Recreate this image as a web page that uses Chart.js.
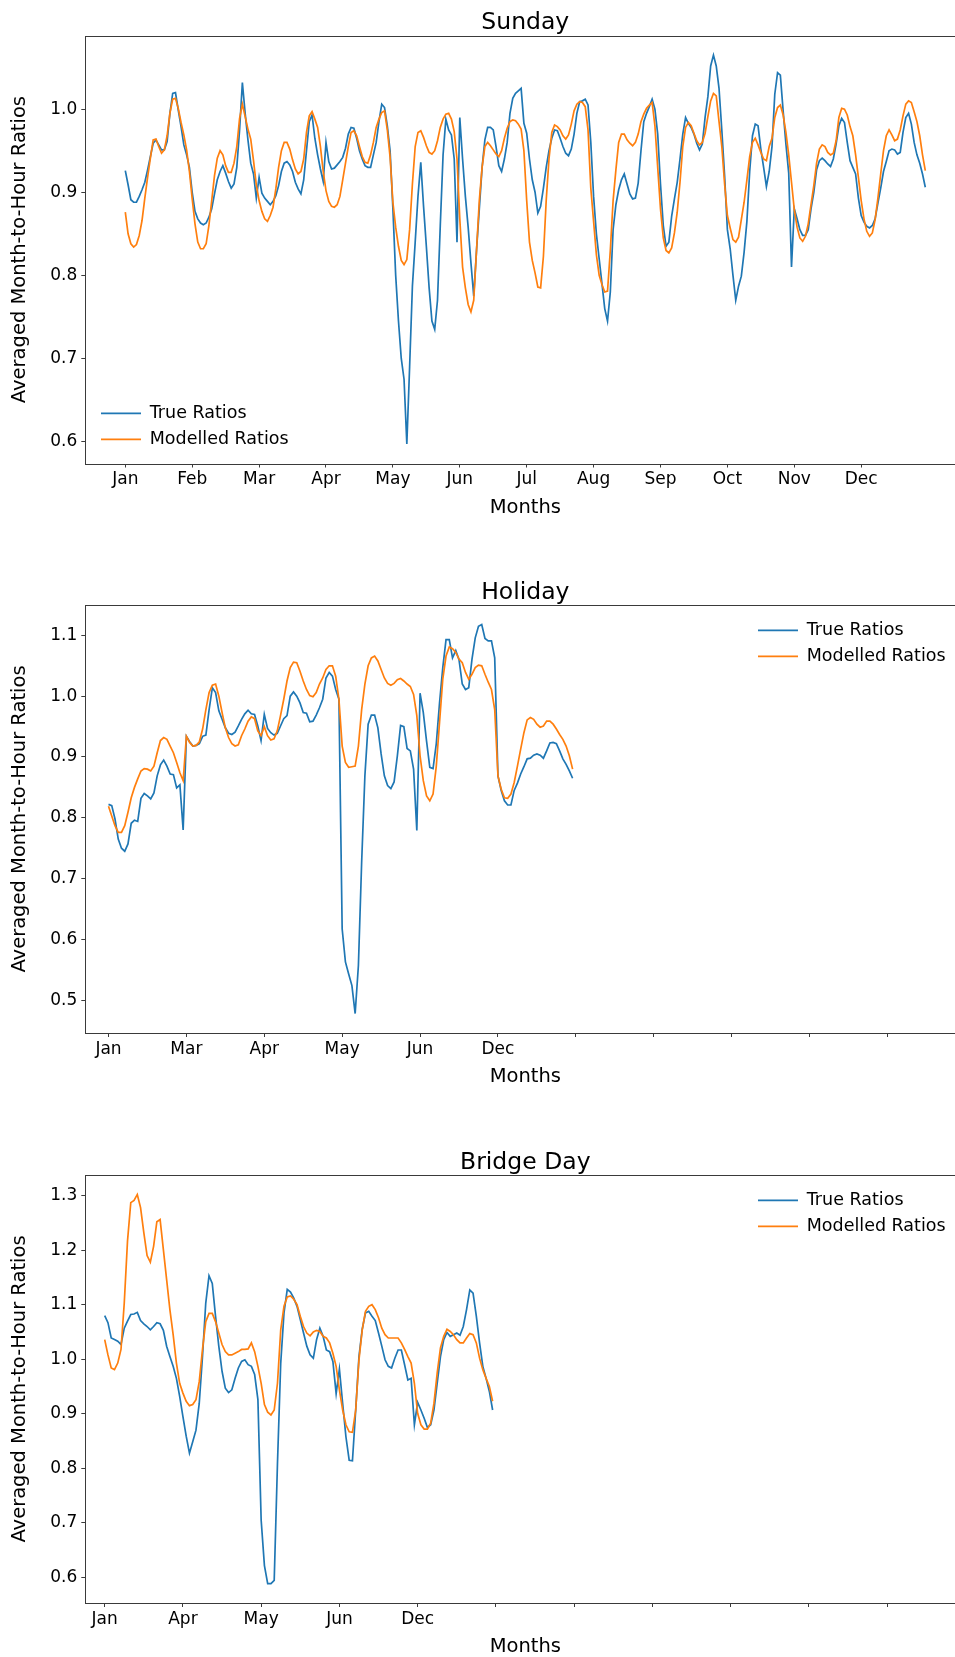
<!DOCTYPE html>
<html>
<head>
<meta charset="utf-8">
<script src="https://cdn.jsdelivr.net/npm/chart.js@4.4.1/dist/chart.umd.min.js"></script>
<style>
  html, body { margin: 0; padding: 0; background: #fff; overflow: hidden; width: 955px; height: 1657px; }
  .panel { position: absolute; left: 0; }
  canvas { display: block; }
</style>
</head>
<body>
<div class="panel" style="top:0px"><canvas id="sunday" width="1000" height="540"></canvas></div>
<div class="panel" style="top:560px"><canvas id="holiday" width="1000" height="550"></canvas></div>
<div class="panel" style="top:1130px"><canvas id="bridge" width="1000" height="550"></canvas></div>
<script>
// Hour-of-day profiles: 24 values per month, one tick at the first hour of each month.
const tickHours = [0, 24, 48, 72, 96, 120, 144, 168, 192, 216, 240, 264];

const sundayMonths = ['Jan', 'Feb', 'Mar', 'Apr', 'May', 'Jun', 'Jul', 'Aug', 'Sep', 'Oct', 'Nov', 'Dec'];
const holidayMonths = ['Jan', 'Mar', 'Apr', 'May', 'Jun', 'Dec'];
const bridgeMonths = ['Jan', 'Apr', 'May', 'Jun', 'Dec'];

const sundayYTicks = [0.6, 0.7, 0.8, 0.9, 1.0];
const holidayYTicks = [0.5, 0.6, 0.7, 0.8, 0.9, 1.0, 1.1];
const bridgeYTicks = [0.6, 0.7, 0.8, 0.9, 1.0, 1.1, 1.2, 1.3];

const sundayTrue = [
  0.926, 0.909, 0.891, 0.888, 0.888, 0.895, 0.903, 0.912, 0.927, 0.943, 0.959, 0.963, 0.957, 0.951, 0.951, 0.961, 0.995, 1.019, 1.020, 0.999, 0.979, 0.957, 0.945, 0.930,
  0.900, 0.877, 0.868, 0.863, 0.861, 0.863, 0.870, 0.880, 0.898, 0.915, 0.925, 0.932, 0.923, 0.913, 0.905, 0.910, 0.930, 0.975, 1.032, 0.995, 0.963, 0.935, 0.922, 0.893,
  0.918, 0.899, 0.893, 0.889, 0.885, 0.889, 0.896, 0.908, 0.925, 0.935, 0.937, 0.933, 0.925, 0.912, 0.904, 0.898, 0.915, 0.950, 0.985, 0.993, 0.965, 0.945, 0.928, 0.913,
  0.960, 0.937, 0.928, 0.929, 0.933, 0.937, 0.942, 0.953, 0.970, 0.978, 0.977, 0.965, 0.950, 0.940, 0.932, 0.930, 0.930, 0.945, 0.960, 0.985, 1.006, 1.002, 0.980, 0.950,
  0.880, 0.800, 0.745, 0.700, 0.675, 0.597, 0.690, 0.787, 0.840, 0.895, 0.936, 0.883, 0.835, 0.785, 0.745, 0.735, 0.770, 0.860, 0.945, 0.988, 0.975, 0.969, 0.940, 0.840,
  0.990, 0.940, 0.895, 0.858, 0.815, 0.775, 0.830, 0.880, 0.930, 0.963, 0.978, 0.978, 0.975, 0.955, 0.932, 0.925, 0.940, 0.960, 0.995, 1.013, 1.019, 1.022, 1.025, 0.983,
  0.971, 0.940, 0.915, 0.900, 0.875, 0.883, 0.905, 0.930, 0.950, 0.965, 0.975, 0.974, 0.965, 0.955, 0.947, 0.944, 0.952, 0.970, 0.995, 1.009, 1.010, 1.012, 1.005, 0.960,
  0.895, 0.850, 0.820, 0.790, 0.760, 0.745, 0.780, 0.855, 0.885, 0.903, 0.915, 0.922, 0.910, 0.898, 0.892, 0.893, 0.911, 0.950, 0.985, 0.995, 1.003, 1.012, 1.000, 0.970,
  0.910, 0.860, 0.835, 0.840, 0.871, 0.892, 0.912, 0.940, 0.970, 0.990, 0.983, 0.978, 0.970, 0.959, 0.951, 0.958, 0.990, 1.015, 1.052, 1.065, 1.052, 1.025, 0.975, 0.920,
  0.855, 0.832, 0.800, 0.770, 0.787, 0.799, 0.828, 0.865, 0.925, 0.968, 0.982, 0.980, 0.952, 0.930, 0.907, 0.925, 0.955, 1.018, 1.044, 1.041, 0.998, 0.958, 0.923, 0.810,
  0.880, 0.868, 0.855, 0.848, 0.848, 0.855, 0.880, 0.900, 0.927, 0.938, 0.941, 0.938, 0.934, 0.931, 0.940, 0.958, 0.980, 0.989, 0.984, 0.960, 0.938, 0.930, 0.922, 0.893,
  0.872, 0.864, 0.859, 0.857, 0.860, 0.868, 0.887, 0.905, 0.925, 0.937, 0.950, 0.952, 0.951, 0.946, 0.948, 0.972, 0.990, 0.995, 0.982, 0.960, 0.945, 0.935, 0.922, 0.906
];

const sundayModel = [
  0.876, 0.850, 0.838, 0.834, 0.837, 0.848, 0.866, 0.893, 0.918, 0.941, 0.963, 0.964, 0.955, 0.947, 0.951, 0.968, 0.995, 1.012, 1.013, 1.001, 0.984, 0.969, 0.951, 0.925,
  0.892, 0.862, 0.840, 0.832, 0.832, 0.838, 0.860, 0.890, 0.920, 0.941, 0.950, 0.945, 0.932, 0.924, 0.924, 0.935, 0.955, 0.989, 1.006, 0.991, 0.976, 0.964, 0.938, 0.909,
  0.890, 0.877, 0.868, 0.865, 0.872, 0.882, 0.904, 0.930, 0.950, 0.960, 0.960, 0.952, 0.939, 0.928, 0.922, 0.925, 0.940, 0.972, 0.992, 0.997, 0.988, 0.978, 0.955, 0.925,
  0.902, 0.889, 0.883, 0.882, 0.885, 0.895, 0.915, 0.935, 0.955, 0.972, 0.974, 0.968, 0.955, 0.943, 0.936, 0.935, 0.945, 0.960, 0.978, 0.988, 0.996, 0.998, 0.975, 0.942,
  0.888, 0.858, 0.835, 0.818, 0.813, 0.819, 0.855, 0.910, 0.955, 0.972, 0.974, 0.966, 0.956, 0.948, 0.946, 0.950, 0.962, 0.978, 0.988, 0.994, 0.995, 0.988, 0.973, 0.940,
  0.868, 0.810, 0.785, 0.765, 0.756, 0.770, 0.830, 0.890, 0.930, 0.955, 0.960, 0.956, 0.951, 0.946, 0.943, 0.950, 0.965, 0.977, 0.985, 0.987, 0.986, 0.982, 0.976, 0.950,
  0.890, 0.840, 0.818, 0.803, 0.786, 0.785, 0.823, 0.890, 0.940, 0.972, 0.981, 0.979, 0.975, 0.968, 0.964, 0.969, 0.982, 0.998, 1.006, 1.009, 1.008, 1.003, 0.975, 0.905,
  0.865, 0.825, 0.800, 0.789, 0.780, 0.781, 0.830, 0.890, 0.927, 0.960, 0.970, 0.970, 0.963, 0.959, 0.956, 0.960, 0.970, 0.985, 0.994, 1.001, 1.005, 1.008, 0.980, 0.930,
  0.880, 0.845, 0.830, 0.827, 0.833, 0.851, 0.876, 0.912, 0.955, 0.978, 0.984, 0.980, 0.971, 0.962, 0.957, 0.960, 0.971, 0.991, 1.010, 1.019, 1.016, 0.985, 0.955, 0.910,
  0.872, 0.857, 0.843, 0.840, 0.846, 0.867, 0.888, 0.915, 0.943, 0.960, 0.965, 0.957, 0.948, 0.940, 0.938, 0.955, 0.965, 0.990, 1.002, 1.005, 0.993, 0.972, 0.945, 0.912,
  0.879, 0.858, 0.845, 0.841, 0.847, 0.862, 0.885, 0.908, 0.935, 0.952, 0.957, 0.955, 0.948, 0.945, 0.947, 0.962, 0.990, 1.001, 1.000, 0.993, 0.979, 0.968, 0.945, 0.918,
  0.890, 0.868, 0.853, 0.847, 0.851, 0.867, 0.893, 0.922, 0.950, 0.968, 0.975, 0.969, 0.962, 0.964, 0.975, 0.992, 1.006, 1.010, 1.008, 0.997, 0.985, 0.968, 0.945, 0.926
];

const holidayTrue = [
  0.822, 0.820, 0.798, 0.765, 0.750, 0.745, 0.757, 0.791, 0.796, 0.794, 0.832, 0.840, 0.836, 0.831, 0.841, 0.869, 0.887, 0.895, 0.885, 0.872, 0.871, 0.849, 0.854, 0.780,
  0.934, 0.925, 0.918, 0.919, 0.922, 0.934, 0.936, 0.978, 1.014, 1.006, 0.976, 0.962, 0.948, 0.939, 0.937, 0.941, 0.951, 0.962, 0.971, 0.977, 0.971, 0.970, 0.951, 0.927,
  0.970, 0.947, 0.940, 0.936, 0.939, 0.951, 0.963, 0.968, 1.000, 1.007, 1.000, 0.989, 0.973, 0.972, 0.958, 0.959, 0.969, 0.981, 0.995, 1.030, 1.039, 1.033, 1.011, 0.995,
  0.617, 0.563, 0.543, 0.524, 0.478, 0.557, 0.727, 0.869, 0.954, 0.969, 0.969, 0.948, 0.905, 0.869, 0.853, 0.848, 0.859, 0.902, 0.952, 0.950, 0.914, 0.910, 0.880, 0.779,
  1.005, 0.973, 0.926, 0.883, 0.881, 0.922, 0.989, 1.047, 1.093, 1.093, 1.063, 1.075, 1.060, 1.020, 1.011, 1.014, 1.061, 1.096, 1.115, 1.118, 1.095, 1.091, 1.091, 1.063,
  0.869, 0.845, 0.828, 0.821, 0.821, 0.845, 0.857, 0.872, 0.884, 0.897, 0.898, 0.903, 0.905, 0.903, 0.898, 0.910, 0.923, 0.924, 0.922, 0.910, 0.897, 0.888, 0.877, 0.865
];

const holidayModel = [
  0.819, 0.803, 0.787, 0.776, 0.776, 0.787, 0.809, 0.833, 0.850, 0.864, 0.877, 0.881, 0.880, 0.877, 0.885, 0.907, 0.927, 0.932, 0.929, 0.918, 0.907, 0.891, 0.874, 0.861,
  0.934, 0.924, 0.918, 0.919, 0.925, 0.946, 0.978, 1.006, 1.018, 1.020, 1.000, 0.973, 0.948, 0.932, 0.922, 0.918, 0.920, 0.935, 0.946, 0.959, 0.966, 0.963, 0.943, 0.935,
  0.950, 0.935, 0.928, 0.930, 0.943, 0.968, 0.995, 1.025, 1.047, 1.056, 1.055, 1.041, 1.025, 1.011, 1.001, 0.999, 1.006, 1.020, 1.030, 1.044, 1.050, 1.050, 1.033, 0.995,
  0.918, 0.891, 0.883, 0.884, 0.885, 0.918, 0.978, 1.020, 1.050, 1.063, 1.066, 1.058, 1.044, 1.030, 1.021, 1.018, 1.021, 1.027, 1.029, 1.025, 1.020, 1.016, 1.003, 0.968,
  0.902, 0.861, 0.836, 0.828, 0.839, 0.885, 0.957, 1.028, 1.066, 1.081, 1.078, 1.072, 1.061, 1.055, 1.039, 1.028, 1.036, 1.047, 1.051, 1.050, 1.036, 1.023, 1.011, 0.978,
  0.869, 0.847, 0.833, 0.832, 0.839, 0.858, 0.885, 0.913, 0.940, 0.961, 0.965, 0.962, 0.954, 0.949, 0.951, 0.959, 0.959, 0.954, 0.946, 0.937, 0.929, 0.918, 0.902, 0.880
];

const bridgeTrue = [
  1.080, 1.067, 1.039, 1.036, 1.033, 1.027, 1.057, 1.070, 1.082, 1.083, 1.086, 1.071, 1.065, 1.060, 1.054, 1.060, 1.067, 1.065, 1.053, 1.024, 1.005, 0.987, 0.965, 0.932,
  0.895, 0.859, 0.828, 0.849, 0.870, 0.919, 1.005, 1.103, 1.153, 1.139, 1.079, 1.024, 0.978, 0.947, 0.939, 0.944, 0.965, 0.984, 0.996, 0.999, 0.990, 0.987, 0.972, 0.926,
  0.705, 0.622, 0.589, 0.589, 0.595, 0.809, 0.993, 1.085, 1.128, 1.123, 1.112, 1.097, 1.073, 1.048, 1.024, 1.008, 1.002, 1.036, 1.057, 1.042, 1.017, 1.014, 0.996, 0.937,
  0.982, 0.919, 0.858, 0.815, 0.814, 0.907, 1.005, 1.055, 1.085, 1.088, 1.079, 1.071, 1.048, 1.024, 0.999, 0.987, 0.984, 1.002, 1.017, 1.017, 0.990, 0.962, 0.965, 0.880,
  0.921, 0.907, 0.892, 0.875, 0.880, 0.907, 0.956, 1.005, 1.036, 1.049, 1.042, 1.045, 1.048, 1.044, 1.060, 1.091, 1.127, 1.121, 1.079, 1.030, 0.987, 0.965, 0.941, 0.907
];

const bridgeModel = [
  1.036, 1.008, 0.984, 0.981, 0.993, 1.018, 1.103, 1.217, 1.287, 1.291, 1.302, 1.278, 1.232, 1.190, 1.178, 1.207, 1.252, 1.256, 1.201, 1.146, 1.091, 1.045, 0.993, 0.956,
  0.938, 0.923, 0.915, 0.917, 0.926, 0.959, 1.018, 1.069, 1.084, 1.084, 1.069, 1.048, 1.027, 1.014, 1.008, 1.008, 1.011, 1.014, 1.018, 1.018, 1.019, 1.030, 1.014, 0.987,
  0.956, 0.917, 0.903, 0.898, 0.907, 0.956, 1.054, 1.097, 1.114, 1.116, 1.110, 1.100, 1.079, 1.060, 1.048, 1.043, 1.050, 1.053, 1.051, 1.042, 1.039, 1.030, 1.011, 0.987,
  0.944, 0.907, 0.880, 0.867, 0.866, 0.907, 0.999, 1.054, 1.088, 1.097, 1.100, 1.091, 1.076, 1.057, 1.045, 1.039, 1.039, 1.039, 1.039, 1.030, 1.018, 1.005, 0.993, 0.956,
  0.901, 0.880, 0.872, 0.872, 0.883, 0.919, 0.975, 1.021, 1.042, 1.055, 1.051, 1.045, 1.036, 1.030, 1.030, 1.039, 1.047, 1.045, 1.030, 1.002, 0.981, 0.965, 0.950, 0.923
];

const FONT = "'DejaVu Sans', 'Liberation Sans', sans-serif";
const BLUE = '#1f77b4';
const ORANGE = '#ff7f0e';
const SPINE = '#3a3a3a';

// Box around the plotting area (all four sides).
const axesFrame = {
  id: 'axesFrame',
  afterDatasetsDraw(chart) {
    const { ctx, chartArea: a } = chart;
    const l = Math.round(a.left) + 0.5, t = Math.round(a.top) + 0.5;
    const r = Math.round(a.right) + 0.5, b = Math.round(a.bottom) + 0.5;
    ctx.save();
    ctx.strokeStyle = SPINE;
    ctx.lineWidth = 1;
    ctx.strokeRect(l, t, r - l, b - t);
    ctx.restore();
  }
};

// Moves the legend to a fixed anchor inside the plotting area.
const legendAnchor = {
  id: 'legendAnchor',
  afterLayout(chart, args, opts) {
    const lg = chart.legend;
    if (!lg) return;
    const a = chart.chartArea;
    const rowY = opts.from === 'bottom' ? a.bottom - opts.dy : a.top + opts.dy;
    lg.left = opts.x - opts.pad;
    lg.top = rowY - opts.fontSize / 2 - opts.pad;
    lg.width = 320;
    lg.height = 90;
    lg.right = lg.left + lg.width;
    lg.bottom = lg.top + lg.height;
  }
};

function limits(a, b) {
  const all = a.concat(b);
  const lo = Math.min(...all), hi = Math.max(...all);
  const m = (hi - lo) * 0.05;
  return [lo - m, hi + m];
}

function makePanel(id, cfg) {
  const n = cfg.trueRatios.length;
  const xMin = -0.05 * (n - 1);
  const xMax = Math.max(tickHours[tickHours.length - 1], (n - 1) * 1.05);
  const [yMin, yMax] = limits(cfg.trueRatios, cfg.modelled);
  const tickGrid = { display: true, drawOnChartArea: false, drawTicks: true, tickLength: 4, tickColor: SPINE, tickWidth: 1 };
  const legendFont = 17.5, legendPad = 8.5;

  new Chart(document.getElementById(id), {
    type: 'line',
    data: {
      datasets: [
        {
          label: 'True Ratios',
          data: cfg.trueRatios.map((v, i) => ({ x: i, y: v })),
          borderColor: BLUE, backgroundColor: BLUE, borderWidth: 1.7,
          pointRadius: 0, tension: 0, fill: false, order: 1
        },
        {
          label: 'Modelled Ratios',
          data: cfg.modelled.map((v, i) => ({ x: i, y: v })),
          borderColor: ORANGE, backgroundColor: ORANGE, borderWidth: 1.7,
          pointRadius: 0, tension: 0, fill: false, order: 0
        }
      ]
    },
    options: {
      responsive: false,
      animation: false,
      devicePixelRatio: 1,
      events: [],
      layout: { padding: { left: 0, right: 34.7, top: 0, bottom: 0 } },
      scales: {
        x: {
          type: 'linear',
          min: xMin,
          max: xMax,
          afterBuildTicks: (s) => { s.ticks = tickHours.map((v) => ({ value: v })); },
          afterFit: (s) => { s.height = cfg.axisH; s.paddingLeft = 0; s.paddingRight = 0; },
          ticks: {
            autoSkip: false, maxRotation: 0, minRotation: 0, padding: 2.3, color: '#000',
            font: { family: FONT, size: 17 },
            callback: (v, i) => cfg.months[i] ?? ''
          },
          grid: tickGrid,
          border: { display: false },
          title: {
            display: true, text: 'Months', color: '#000',
            font: { family: FONT, size: 19.5 },
            padding: { top: 0, bottom: cfg.axisH - 55.9 }
          }
        },
        y: {
          type: 'linear',
          min: yMin,
          max: yMax,
          afterBuildTicks: (s) => { s.ticks = cfg.yTicks.map((v) => ({ value: v })); },
          afterFit: (s) => { s.width = 85.3; },
          ticks: {
            autoSkip: false, padding: 4, color: '#000',
            font: { family: FONT, size: 17 },
            callback: (v) => Number(v).toFixed(1)
          },
          grid: tickGrid,
          border: { display: false },
          title: {
            display: true, text: 'Averaged Month-to-Hour Ratios', color: '#000',
            font: { family: FONT, size: 19.5 },
            padding: { top: 8.3, bottom: 0 }
          }
        }
      },
      plugins: {
        title: {
          display: true, text: cfg.title, color: '#000', fullSize: false,
          font: { family: FONT, size: 23.5, weight: 'normal', lineHeight: 1 },
          padding: { top: cfg.titlePadTop, bottom: 0.75 }
        },
        legend: {
          display: true,
          position: 'chartArea',
          align: 'start',
          labels: {
            usePointStyle: true,
            pointStyle: 'line',
            pointStyleWidth: 40,
            padding: legendPad,
            color: '#000',
            font: { family: FONT, size: legendFont },
            sort: (a, b) => a.datasetIndex - b.datasetIndex
          }
        },
        tooltip: { enabled: false },
        legendAnchor: Object.assign({ pad: legendPad, fontSize: legendFont }, cfg.legendAt)
      }
    },
    plugins: [axesFrame, legendAnchor]
  });
}

makePanel('sunday', {
  title: 'Sunday', months: sundayMonths, yTicks: sundayYTicks,
  trueRatios: sundayTrue, modelled: sundayModel,
  axisH: 76.5, titlePadTop: 11.45,
  legendAt: { from: 'bottom', dy: 50.2, x: 101 }
});

makePanel('holiday', {
  title: 'Holiday', months: holidayMonths, yTicks: holidayYTicks,
  trueRatios: holidayTrue, modelled: holidayModel,
  axisH: 77, titlePadTop: 20.75,
  legendAt: { from: 'top', dy: 25.3, x: 758 }
});

makePanel('bridge', {
  title: 'Bridge Day', months: bridgeMonths, yTicks: bridgeYTicks,
  trueRatios: bridgeTrue, modelled: bridgeModel,
  axisH: 77, titlePadTop: 20.75,
  legendAt: { from: 'top', dy: 25.3, x: 758 }
});
</script>
</body>
</html>
